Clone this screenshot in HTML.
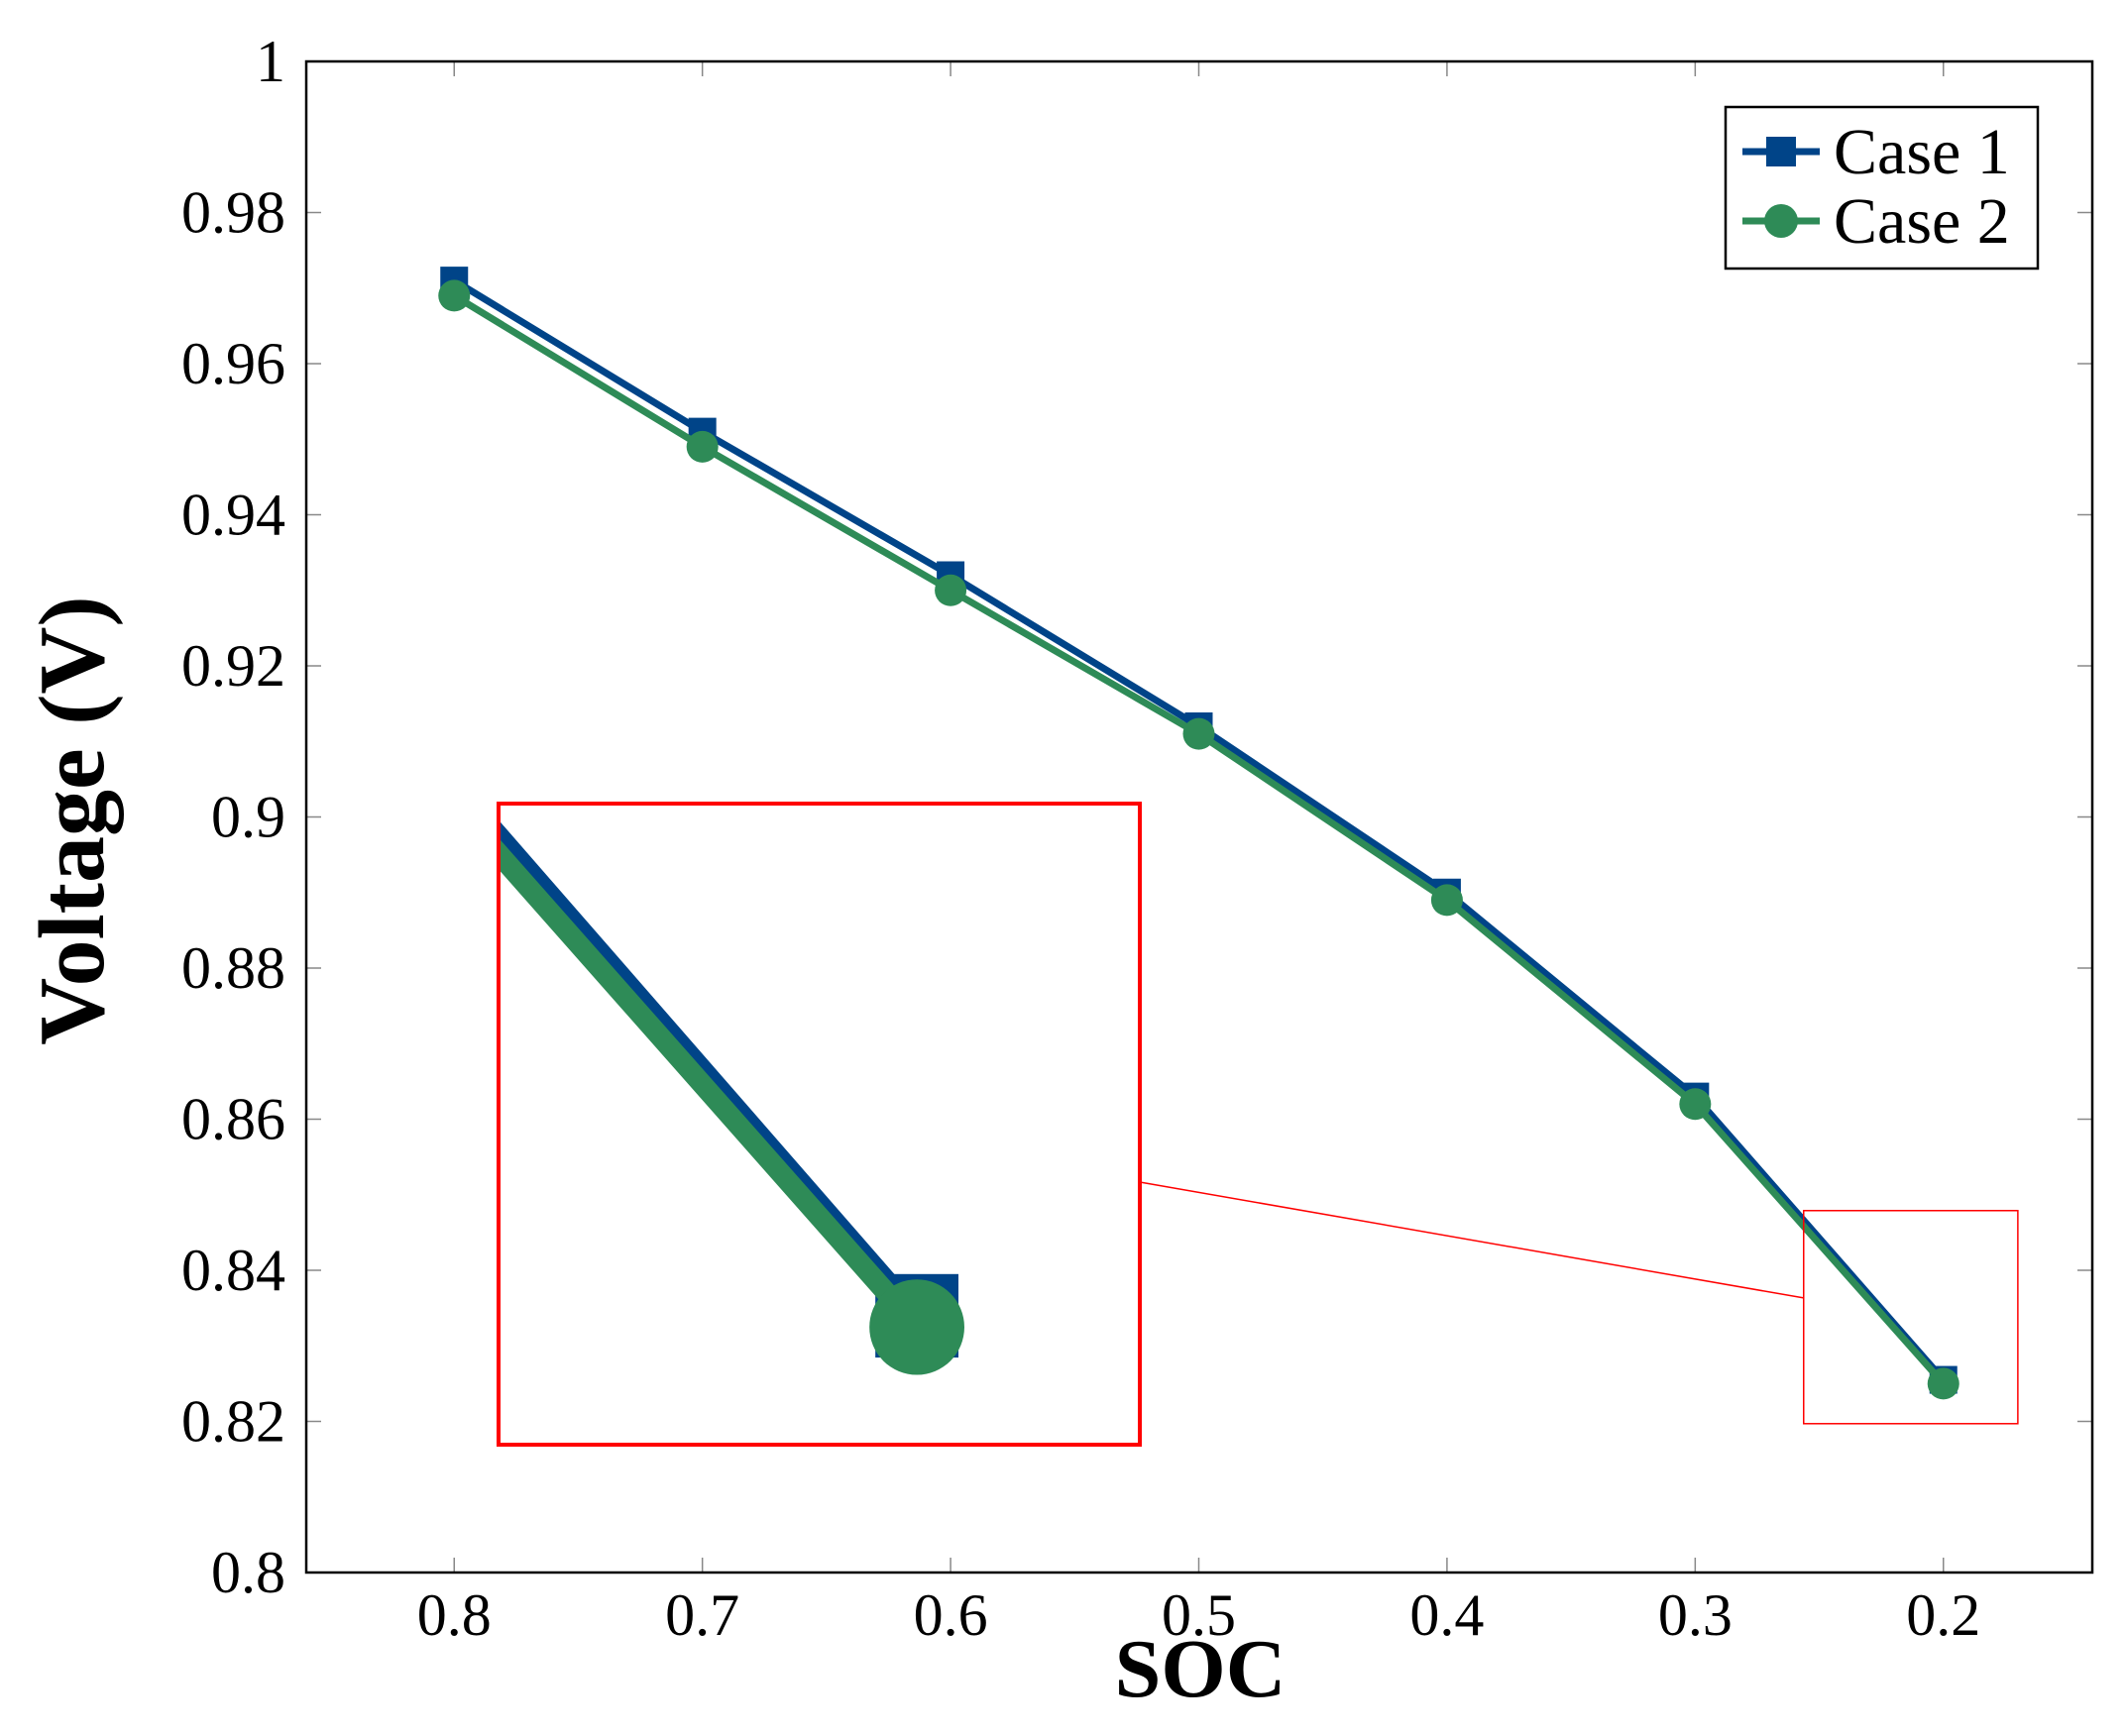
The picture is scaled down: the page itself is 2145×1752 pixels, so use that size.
<!DOCTYPE html>
<html><head><meta charset="utf-8"><style>
html,body{margin:0;padding:0;background:#fff;}
svg{display:block;}
text{font-family:"Liberation Serif",serif;fill:#000;}
</style></head><body>
<svg id="chart" width="2145" height="1752" viewBox="0 0 2145 1752" xmlns="http://www.w3.org/2000/svg">
<defs>
<clipPath id="plotClip"><rect x="309" y="62" width="1802" height="1525"/></clipPath>
<clipPath id="insetClip"><rect x="503" y="811" width="647" height="647"/></clipPath>
</defs>
<g id="root"></g>
</svg>
<script>
const soc = [0.8, 0.7, 0.6, 0.5, 0.4, 0.3, 0.2];
const case1 = [0.971, 0.951, 0.932, 0.912, 0.890, 0.863, 0.8255];
const case2 = [0.969, 0.949, 0.930, 0.911, 0.889, 0.862, 0.825];
const yTicks = [0.8, 0.82, 0.84, 0.86, 0.88, 0.9, 0.92, 0.94, 0.96, 0.98, 1];
const yTickLabels = ["0.8","0.82","0.84","0.86","0.88","0.9","0.92","0.94","0.96","0.98","1"];
const xTicks = [0.8, 0.7, 0.6, 0.5, 0.4, 0.3, 0.2];
const xTickLabels = ["0.8","0.7","0.6","0.5","0.4","0.3","0.2"];
const seriesNames = ["Case 1", "Case 2"];
const zoomRegion = [0.2563, 0.170, 0.8479, 0.8197]; // x0,x1,y0(top),y1(bottom)

const NS = "http://www.w3.org/2000/svg";
const root = document.getElementById('root');
const L=309,R=2111,T=62,B=1587;
const XMIN=0.8596, XMAX=0.14;
const xs = v => L + (XMIN - v)/(XMIN - XMAX)*(R-L);
const ys = v => B - (v-0.8)/0.2*(B-T);
function mk(tag, attrs, parent){const e=document.createElementNS(NS,tag);for(const k in attrs)e.setAttribute(k,attrs[k]);(parent||root).appendChild(e);return e;}

const tickG = mk('g',{});


yTicks.forEach((v,i)=>{
  const y=ys(v);
  mk('line',{x1:L,x2:L+15,y1:y,y2:y,stroke:'#888','stroke-width':1.5},tickG);
  mk('line',{x1:R-15,x2:R,y1:y,y2:y,stroke:'#888','stroke-width':1.5},tickG);
  const t=mk('text',{x:288,y:y+20,'text-anchor':'end','font-size':60});
  t.textContent=yTickLabels[i];
  
  
});
xTicks.forEach((v,i)=>{
  const x=xs(v);
  mk('line',{x1:x,x2:x,y1:B-15,y2:B,stroke:'#888','stroke-width':1.5},tickG);
  mk('line',{x1:x,x2:x,y1:T,y2:T+15,stroke:'#888','stroke-width':1.5},tickG);
  const t=mk('text',{x:x,y:1650,'text-anchor':'middle','font-size':60});
  t.textContent=xTickLabels[i];
  
  
});

function drawSeries(parent){
  const cols=['#004488','#2e8b57'];
  [case1,case2].forEach((arr,si)=>{
    const g=mk('g',{},parent);
    
    
    const pts=soc.map((s,i)=>xs(s)+','+ys(arr[i])).join(' ');
    mk('polyline',{points:pts,fill:'none',stroke:cols[si],'stroke-width':7,'stroke-linejoin':'round'},g);
    soc.forEach((s,i)=>{
      let m;
      if(si===0) m=mk('rect',{x:xs(s)-14,y:ys(arr[i])-14,width:28,height:28,fill:cols[0]},g);
      else m=mk('circle',{cx:xs(s),cy:ys(arr[i]),r:16,fill:cols[1]},g);
      
      
    });
  });
}
const mainG=mk('g',{'clip-path':'url(#plotClip)'});
drawSeries(mainG);

const zx0=xs(zoomRegion[0]), zx1=xs(zoomRegion[1]), zy0=ys(zoomRegion[2]), zy1=ys(zoomRegion[3]);
const zr=mk('rect',{x:zx0,y:zy0,width:zx1-zx0,height:zy1-zy0,fill:'none',stroke:'#f00','stroke-width':1.5});


const cl=mk('line',{x1:zx0,y1:zy0+(zy1-zy0)*0.41,x2:1150,y2:1193,stroke:'#f00','stroke-width':1.5});



const IX=503,IY=811,IW=647,IH=647;
const sx=IW/(zx1-zx0), sy=IH/(zy1-zy0);
mk('rect',{x:IX,y:IY,width:IW,height:IH,fill:'#fff'});
const insetOuter=mk('g',{'clip-path':'url(#insetClip)'});


const insetG=mk('g',{transform:`translate(${IX},${IY+3}) scale(${sx},${sy}) translate(${-zx0},${-zy0})`},insetOuter);
drawSeries(insetG);
const ib=mk('rect',{x:IX,y:IY,width:IW,height:IH,fill:'none',stroke:'#f00','stroke-width':4});



const fr=mk('rect',{x:L,y:T,width:R-L,height:B-T,fill:'none',stroke:'#000','stroke-width':2.5});



const xt=mk('text',{x:1211,y:1712,'text-anchor':'middle','font-size':84,'font-weight':'bold'});
xt.textContent='SOC';


const yt=mk('text',{x:0,y:0,'text-anchor':'middle','font-size':94,'font-weight':'bold',transform:'translate(104,828) rotate(-90)'});
yt.textContent='Voltage (V)';



const lg=mk('g',{});


mk('rect',{x:1741,y:108,width:315,height:163,fill:'#fff',stroke:'#000','stroke-width':2.5},lg);
const lcols=['#004488','#2e8b57'];
[153,223].forEach((y,i)=>{
  const e=mk('g',{},lg);
  
  
  mk('line',{x1:1758,x2:1836,y1:y,y2:y,stroke:lcols[i],'stroke-width':7},e);
  if(i===0) mk('rect',{x:1782,y:y-15,width:30,height:30,fill:lcols[0]},e);
  else mk('circle',{cx:1797,cy:y,r:17,fill:lcols[1]},e);
  const t=mk('text',{x:1850,y:y+22,'font-size':66},e);
  t.textContent=seriesNames[i];
});
</script>
</body></html>
